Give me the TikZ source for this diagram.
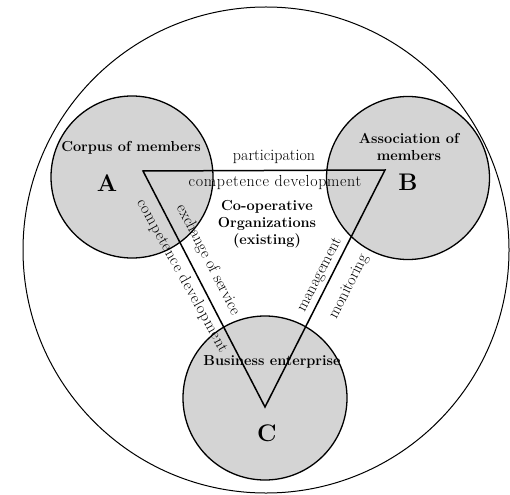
\documentclass[tikz,border=0pt]{standalone}
\usepackage{fontspec}
\setmainfont{Latin Modern Roman}
\begin{document}
\begin{tikzpicture}[x=1pt,y=-1pt,
  pool/.style={circle,draw=black,line width=1.3pt,fill=black!17,minimum size=#1,inner sep=0pt},
  lab/.style={font=\fontsize{16}{18}\selectfont,inner sep=0pt},
  wlab/.style={font=\fontsize{16}{18}\selectfont\addfontfeature{LetterSpace=4},inner sep=0pt},
  blab/.style={font=\fontsize{14.5}{17}\selectfont\bfseries,inner sep=0pt,align=center},
  big/.style={font=\fontsize{24}{26}\selectfont\bfseries,inner sep=0pt}]
\useasboundingbox (0,0) rectangle (510,494);
\node[circle,draw=black,line width=1pt,minimum size=486pt,inner sep=0pt] (outer) at (266,250) {};
\node[pool=162pt] (cA) at (132,177) {};
\node[pool=163pt] (cB) at (408,178) {};
\node[pool=164pt] (cC) at (265,398) {};
\coordinate (tA) at (143,171);
\coordinate (tB) at (385,170);
\coordinate (tC) at (265,407);
\draw[line width=1.5pt,line join=miter] (tA) -- (tB) -- (tC) -- cycle;
\node[blab] (corpus) at (131,148) {Corpus of members};
\node[big] (A) at (107,183) {A};
\node[blab] (assoc) at (409,147) {Association of\\members};
\node[big] (B) at (408,182) {B};
\node[blab] (bus) at (272,362) {Business enterprise};
\node[big] (C) at (267,433) {C};
\node[blab] (coop) at (267,224) {Co-operative\\Organizations\\(existing)};
\node[lab] (part) at (274,157) {participation};
\node[wlab] (comp1) at (275,183) {competence development};
\node[wlab,rotate=-61] (comp2) at (182,276) {competence development};
\node[lab,rotate=-62.7] (exch) at (208,260) {exchange of service};
\node[lab,rotate=63.1] (mgmt) at (320,275) {management};
\node[lab,rotate=63.1] (mon) at (349,287) {monitoring};
\end{tikzpicture}
\end{document}
